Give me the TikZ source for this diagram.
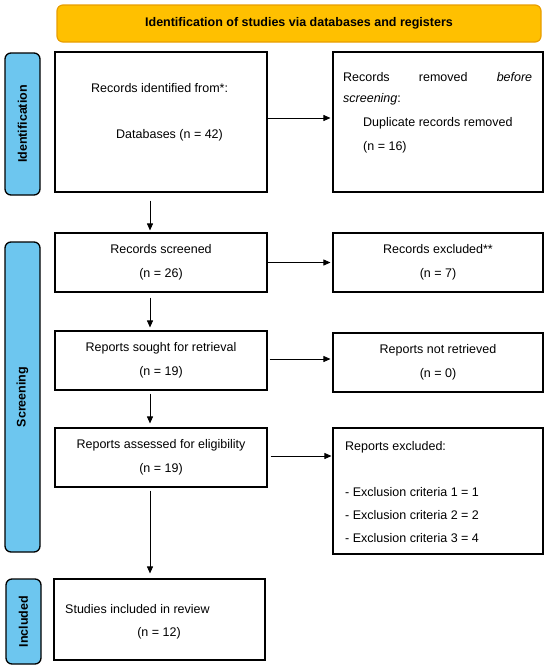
\documentclass[tikz,border=0pt]{standalone}
\usepackage{fontspec}
\setmainfont{Liberation Sans}
\usepackage{xcolor}
\usetikzlibrary{arrows.meta, positioning}
\definecolor{bannerfill}{HTML}{FFC000}
\definecolor{bannerline}{HTML}{E89E00}
\definecolor{sidefill}{HTML}{6DC6EF}
\newcommand{\flowfont}{\fontsize{12.5}{24}\selectfont}

\begin{document}
\begin{tikzpicture}[x=1pt, y=-1pt,
      b/.style={draw, line width=1.1pt, minimum width=212pt, inner sep=2pt,
                align=center, font=\flowfont},
      side/.style={draw, line width=1.3pt, fill=sidefill, rounded corners=6pt,
                   minimum height=35pt, rotate=90, inner sep=0pt,
                   font=\fontsize{12.5}{15}\selectfont\bfseries},
      txt/.style={inner sep=0pt, font=\flowfont},
      ar/.style={-{Triangle[length=7pt, width=6pt]}, line width=0.8pt}
    ]
    \useasboundingbox (0,0) rectangle (550,670);

    \node[draw=bannerline, line width=1.2pt, fill=bannerfill, rounded corners=6pt,
          minimum width=484pt, minimum height=37pt,
          font=\fontsize{12.5}{15}\selectfont\bfseries] (banner) at (299,23.5)
          {Identification of studies via databases and registers};

    \node[side, minimum width=142pt] (sid) at (22.5,124)   {Identification};
    \node[side, minimum width=310pt] (sscr) at (22.5,397)  {Screening};
    \node[side, minimum width=85pt]  (sinc) at (23.5,621.5) {Included};

    % left column
    \node[b, minimum height=140pt] (recid)  at (161,122)   {};
    \node[b, minimum height=59pt]  (screen) at (161,262.5) {Records screened\\(n = 26)};
    \node[b, minimum height=59pt]  (sought) at (161,360.5) {Reports sought for retrieval\\(n = 19)};
    \node[b, minimum height=59pt]  (assess) at (161,457.5) {Reports assessed for eligibility\\(n = 19)};
    \node[b, minimum width=211pt, minimum height=81pt] (incl) at (159.5,619.5) {};

    % right column
    \node[b, minimum width=210pt, minimum height=140pt] (remov)  at (438,122)   {};
    \node[b, minimum width=210pt, minimum height=59pt]  (excl)   at (438,262.5) {Records excluded**\\(n = 7)};
    \node[b, minimum width=210pt, minimum height=59pt]  (notret) at (438,362.5) {Reports not retrieved\\(n = 0)};
    \node[b, minimum width=210pt, minimum height=126pt] (repexc) at (438,491)   {};

    \node[txt, anchor=west] (recfrom) at (91,88)   {Records identified from*:};
    \node[txt, anchor=west] (recdb)   at (116,135) {Databases (n = 42)};
    \node[txt, anchor=west] (remhead) at (343,77)  {\makebox[189pt][s]{Records removed \textit{before}}};
    \node[txt, anchor=west] (remscr)  at (343,99)  {\textit{screening}:};
    \node[txt, anchor=west] (remdup)  at (363,123) {Duplicate records removed};
    \node[txt, anchor=west] (remn)    at (363,147) {(n = 16)};
    \node[txt, anchor=west, align=left, font=\fontsize{12.5}{23}\selectfont] (exclist) at (345,492)
          {Reports excluded:\\[23pt]- Exclusion criteria 1 = 1\\- Exclusion criteria 2 = 2\\- Exclusion criteria 3 = 4};
    \node[txt, anchor=west] (inclt)   at (65,609)  {Studies included in review};
    \node[txt]              (incln)   at (159,633) {(n = 12)};

    \coordinate (vx) at (150,0);
    \draw[ar, shorten <=8pt, shorten >=2pt] (recid.south -| vx)  -- (screen.north -| vx);
    \draw[ar, shorten <=5pt, shorten >=3pt] (screen.south -| vx) -- (sought.north -| vx);
    \draw[ar, shorten <=3pt, shorten >=4pt] (sought.south -| vx) -- (assess.north -| vx);
    \draw[ar, shorten <=3pt, shorten >=5pt] (assess.south -| vx) -- (incl.north -| vx);

    \draw[ar, shorten >=2pt] ([yshift=4pt]recid.east) -- ([yshift=4pt]recid.east -| remov.west);
    \draw[ar, shorten >=2pt] (screen.east) -- (screen.east -| excl.west);
    \draw[ar, shorten <=2pt, shorten >=2pt] ([yshift=1.5pt]sought.east) -- ([yshift=1.5pt]sought.east -| notret.west);
    \draw[ar, shorten <=3pt, shorten >=1pt] ([yshift=1.5pt]assess.east) -- ([yshift=1.5pt]assess.east -| repexc.west);
  \end{tikzpicture}
\end{document}
